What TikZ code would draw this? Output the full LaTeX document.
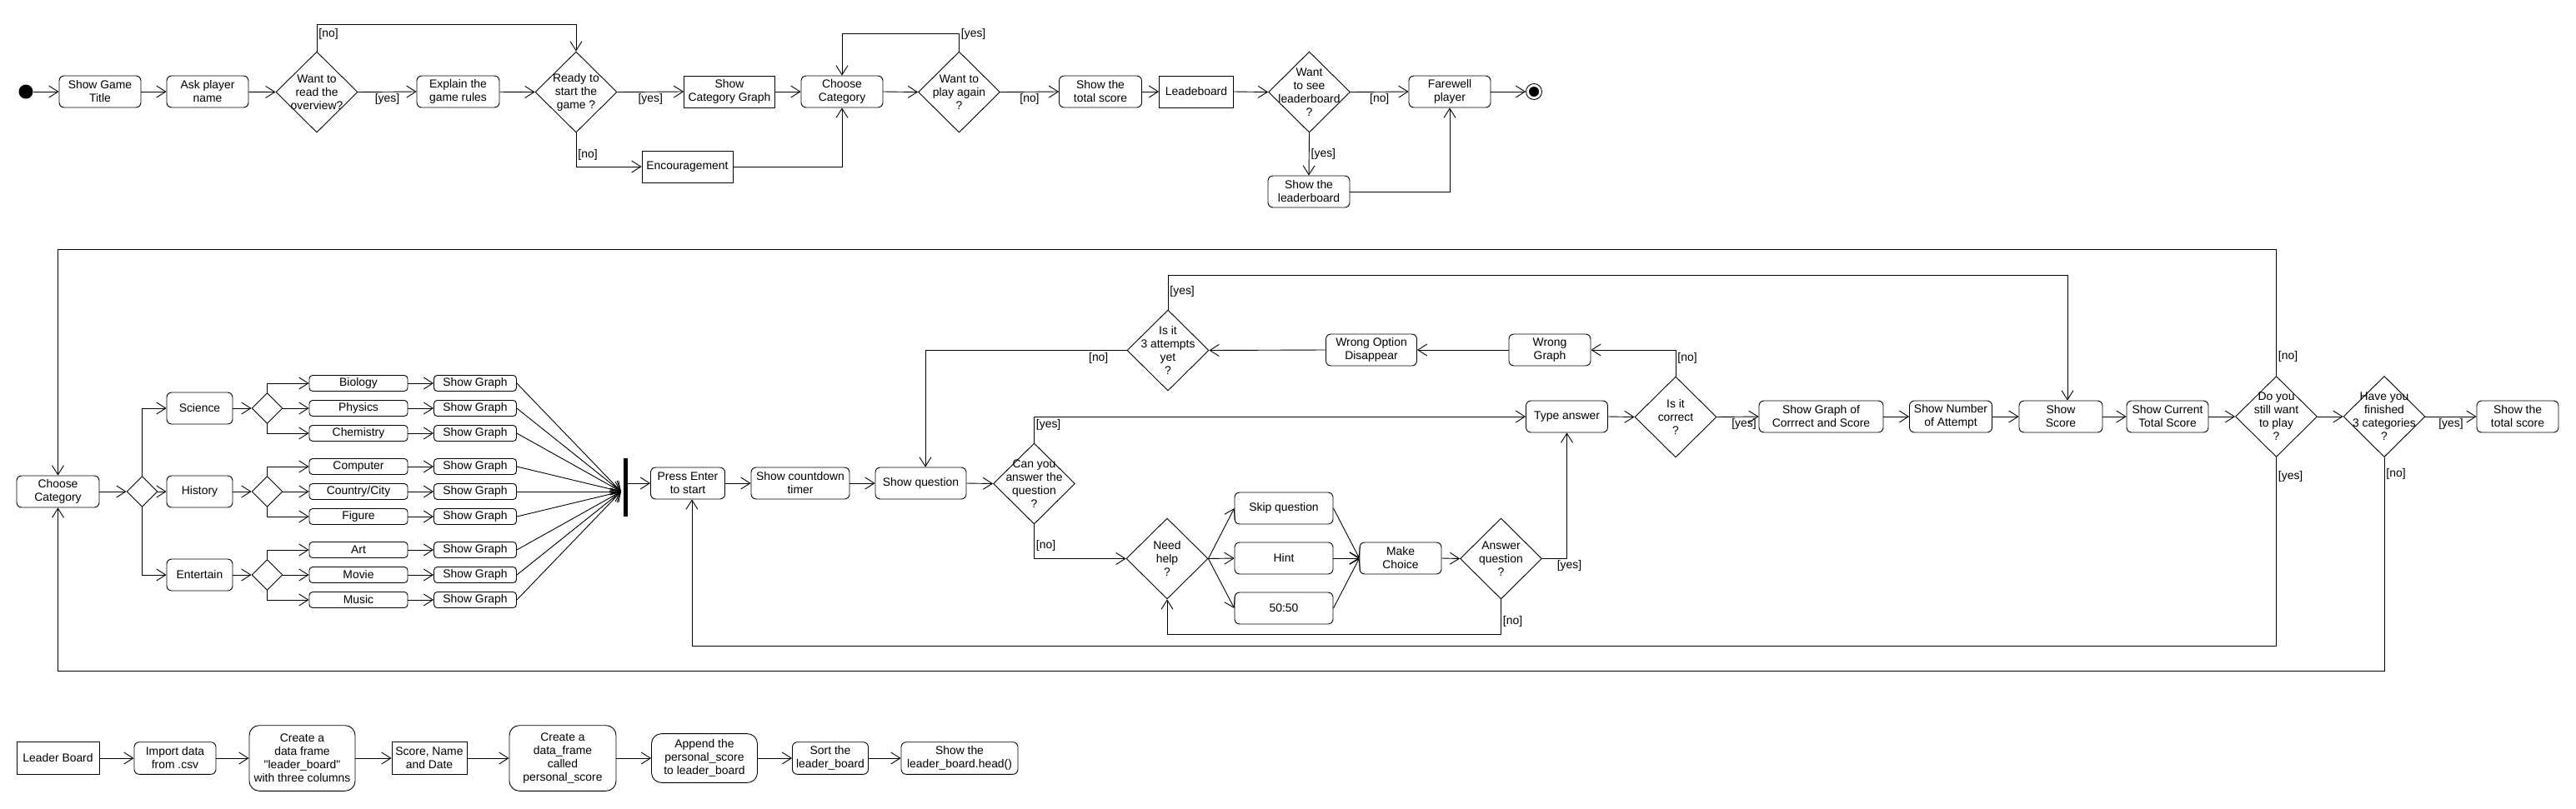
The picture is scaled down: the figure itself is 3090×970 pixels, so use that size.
\documentclass[tikz,border=0pt]{standalone}
\usepackage{fontspec}
\setmainfont{Liberation Sans}[Ligatures=TeXOff]
\usetikzlibrary{arrows.meta,shapes.geometric,calc}
\tikzset{
 lw/.style={line width=0.9pt},
 arr/.style={draw, lw, -{Straight Barb[length=11pt,width=14pt]}},
 act/.style={draw, lw, rectangle, rounded corners=6pt, minimum height=38pt, inner sep=0pt, align=center},
 bigact/.style={act, rounded corners=12pt},
 box/.style={draw, lw, rectangle, minimum height=38pt, inner sep=0pt, align=center},
 sub/.style={act, rounded corners=4pt, minimum height=19pt},
 dia/.style={draw, lw, diamond, minimum width=98pt, minimum height=97pt, inner sep=0pt},
 sdia/.style={draw, lw, diamond, minimum width=37pt, minimum height=37pt, inner sep=0pt},
 txt/.style={align=center, inner sep=0pt},
 lab/.style={inner sep=2pt},
}
\begin{document}
\begin{tikzpicture}[x=1pt, y=-1pt, font=\fontsize{13.9pt}{16pt}\selectfont]
\useasboundingbox (0,0) rectangle (3090,970);

% ---------------- Row 1 ----------------
\node[circle, fill, minimum size=17pt, inner sep=0pt] (start) at (31,110) {};
\node[act, minimum width=98pt] (sgt) at (120,110) {Show Game\\Title};
\node[act, minimum width=98pt] (apn) at (249,110) {Ask player\\name};
\node[dia] (d1) at (380,110.5) {};
\node[txt] (d1t) at (d1) {Want to\\read the\\overview?};
\node[act, minimum width=99pt] (egr) at (549.5,110) {Explain the\\game rules};
\node[dia] (d2) at (691,110.5) {};
\node[txt] (d2t) at (d2) {Ready to\\start the\\game ?};
\node[box, minimum width=109pt] (scg) at (875,110) {Show\\Category Graph};
\node[act, minimum width=98pt] (cc1) at (1010,110) {Choose\\Category};
\node[box, minimum width=109pt] (enc) at (824.5,200) {Encouragement};
\node[dia] (d3) at (1150.5,110.5) {};
\node[txt] (d3t) at (d3) {Want to\\play again\\?};
\node[act, minimum width=99pt] (sts1) at (1320,110) {Show the\\total score};
\node[box, minimum width=89pt] (lb1) at (1435,110) {Leadeboard};
\node[dia] (d4) at (1570.5,110.5) {};
\node[txt] (d4t) at (d4) {Want\\to see\\leaderboard\\?};
\node[act, minimum width=98pt] (fp) at (1739,110) {Farewell\\player};
\node[circle, draw, lw, minimum size=19pt, inner sep=0pt] (fin) at (1840,110) {};
\node[circle, fill, minimum size=12pt, inner sep=0pt] (fini) at (fin) {};
\node[act, minimum width=98pt] (stl) at (1570,230) {Show the\\leaderboard};

\draw[arr] (start) -- (sgt);
\draw[arr] (sgt) -- (apn);
\draw[arr] (apn) -- (d1.west);
\draw[arr] (d1.east) -- node[lab,below]{[yes]} (egr.west);
\draw[arr] (egr) -- (d2.west);
\draw[arr] (d1.north) -- node[lab,right,pos=0.65]{[no]} ++(0,-32) -| (d2.north);
\draw[arr] (d2.east) -- node[lab,below]{[yes]} (scg.west);
\draw[arr] (d2.south) |- node[lab,right,pos=0.32]{[no]} (enc.west);
\draw[arr] (scg) -- (cc1);
\draw[arr] (enc.east) -| (cc1.south);
\draw[arr] (cc1.east) -- (d3.west);
\draw[arr] (d3.north) -- ++(0,-21) node[lab,right]{[yes]} -| (cc1.north);
\draw[arr] (d3.east) -- node[lab,below]{[no]} (sts1.west);
\draw[arr] (sts1) -- (lb1);
\draw[arr] (lb1.east) -- (d4.west);
\draw[arr] (d4.east) -- node[lab,below]{[no]} (fp.west);
\draw[arr] (fp) -- (fin);
\draw[arr] (d4.south) -- node[lab,right]{[yes]} (stl.north);
\draw[arr] (stl.east) -| (fp.south);

% ---------------- Row 2 : categories ----------------
\node[act, minimum width=99pt] (cc2) at (69.5,590) {Choose\\Category};
\node[sdia] (sd0) at (170.5,590) {};
\node[act, minimum width=79pt] (sci) at (239.5,490) {Science};
\node[act, minimum width=79pt] (his) at (239.5,590) {History};
\node[act, minimum width=79pt] (ent) at (239.5,690) {Entertain};
\node[sdia] (sd1) at (320.5,490) {};
\node[sdia] (sd2) at (320.5,590) {};
\node[sdia] (sd3) at (320.5,690) {};

\node[sub, minimum width=118pt] (bio) at (430,460) {Biology};
\node[sub, minimum width=118pt] (phy) at (430,490) {Physics};
\node[sub, minimum width=118pt] (che) at (430,520) {Chemistry};
\node[sub, minimum width=118pt] (com) at (430,560) {Computer};
\node[sub, minimum width=118pt] (cou) at (430,590) {Country/City};
\node[sub, minimum width=118pt] (fig) at (430,620) {Figure};
\node[sub, minimum width=118pt] (art) at (430,660) {Art};
\node[sub, minimum width=118pt] (mov) at (430,690) {Movie};
\node[sub, minimum width=118pt] (mus) at (430,720) {Music};

\node[sub, minimum width=99pt] (g1) at (570,460) {Show Graph};
\node[sub, minimum width=99pt] (g2) at (570,490) {Show Graph};
\node[sub, minimum width=99pt] (g3) at (570,520) {Show Graph};
\node[sub, minimum width=99pt] (g4) at (570,560) {Show Graph};
\node[sub, minimum width=99pt] (g5) at (570,590) {Show Graph};
\node[sub, minimum width=99pt] (g6) at (570,620) {Show Graph};
\node[sub, minimum width=99pt] (g7) at (570,660) {Show Graph};
\node[sub, minimum width=99pt] (g8) at (570,690) {Show Graph};
\node[sub, minimum width=99pt] (g9) at (570,720) {Show Graph};

\node[fill, minimum width=5pt, minimum height=70pt, inner sep=0pt] (bar) at (750.5,585) {};
\coordinate (bj) at (745,590);

\draw[arr] (cc2.east) -- (sd0.west);
\draw[arr] (sd0.north) |- (sci.west);
\draw[arr] (sd0.east) -- (his.west);
\draw[arr] (sd0.south) |- (ent.west);
\draw[arr] (sci.east) -- (sd1.west);
\draw[arr] (his.east) -- (sd2.west);
\draw[arr] (ent.east) -- (sd3.west);
\draw[arr] (sd1.north) |- (bio.west);
\draw[arr] (sd1.east) -- (phy.west);
\draw[arr] (sd1.south) |- (che.west);
\draw[arr] (sd2.north) |- (com.west);
\draw[arr] (sd2.east) -- (cou.west);
\draw[arr] (sd2.south) |- (fig.west);
\draw[arr] (sd3.north) |- (art.west);
\draw[arr] (sd3.east) -- (mov.west);
\draw[arr] (sd3.south) |- (mus.west);
\foreach \a/\b in {bio/g1,phy/g2,che/g3,com/g4,cou/g5,fig/g6,art/g7,mov/g8,mus/g9}
  \draw[arr] (\a) -- (\b);
\foreach \g in {g1,g2,g3,g4,g5,g6,g7,g8,g9}
  \draw[arr] (\g.east) -- (bj);

% ---------------- Row 2 : questions ----------------
\node[act, minimum width=89pt] (pe) at (825,580) {Press Enter\\to start};
\node[act, minimum width=118pt] (sct) at (960,580) {Show countdown\\timer};
\node[act, minimum width=109pt] (sq) at (1104.5,580) {Show question};
\node[dia] (d5) at (1240.5,580.5) {};
\node[txt] (d5t) at (d5) {Can you\\answer the\\question\\?};
\node[dia] (nh) at (1400,670.5) {};
\node[txt] (nht) at (nh) {Need\\help\\?};
\node[act, minimum width=118pt] (skip) at (1540,610) {Skip question};
\node[act, minimum width=118pt] (hint) at (1540,670) {Hint};
\node[act, minimum width=118pt] (ff) at (1540,730) {50:50};
\node[act, minimum width=98pt] (mc) at (1680,670) {Make\\Choice};
\node[dia] (d6) at (1800.5,670.5) {};
\node[txt] (d6t) at (d6) {Answer\\question\\?};
\node[act, minimum width=98pt] (ta) at (1879.5,500) {Type answer};
\node[dia] (d7) at (2010,500.5) {};
\node[txt] (d7t) at (d7) {Is it\\correct\\?};
\node[act, minimum width=98pt] (wg) at (1859,420) {Wrong\\Graph};
\node[act, minimum width=109pt] (wod) at (1645,420) {Wrong Option\\Disappear};
\node[dia] (d8) at (1401,420.5) {};
\node[txt] (d8t) at (d8) {Is it\\3 attempts\\yet\\?};
\node[act, minimum width=149pt] (sgc) at (2184.5,500) {Show Graph of\\Corrrect and Score};
\node[act, minimum width=99pt] (sna) at (2340,500) {Show Number\\of Attempt};
\node[act, minimum width=100pt] (ss) at (2472,500) {Show\\Score};
\node[act, minimum width=98pt] (sct2) at (2600,500) {Show Current\\Total Score};
\node[dia] (d9) at (2730.5,500) {};
\node[txt] (d9t) at (d9) {Do you\\still want\\to play\\?};
\node[dia] (d10) at (2860,500) {};
\node[txt] (d10t) at (d10) {Have you\\finished\\3 categories\\?};
\node[act, minimum width=98pt] (sts2) at (3020,500) {Show the\\total score};

\draw[arr] (bar.east |- pe.west) -- (pe.west);
\draw[arr] (pe) -- (sct);
\draw[arr] (sct) -- (sq);
\draw[arr] (sq.east) -- (d5.west);
\draw[arr] (d5.north) |- node[lab,right,pos=0.34]{[yes]} (ta.west);
\draw[arr] (d5.south) |- node[lab,right,pos=0.31]{[no]} (nh.west);
\draw[arr] (nh.east) -- (skip.west);
\draw[arr] (nh.east) -- (hint.west);
\draw[arr] (nh.east) -- (ff.west);
\draw[arr] (skip.east) -- (mc.west);
\draw[arr] (hint.east) -- (mc.west);
\draw[arr] (ff.east) -- (mc.west);
\draw[arr] (mc.east) -- (d6.west);
\draw[arr] (d6.east) -| node[lab,below,pos=0.5,inner sep=1pt,xshift=3pt]{[yes]} (ta.south);
\draw[arr] (d6.south) -- node[lab,right,pos=0.63]{[no]} ++(0,41.5) -| (nh.south);
\draw[arr] (ta.east) -- (d7.west);
\draw[arr] (d7.north) |- node[lab,right,pos=0.34]{[no]} (wg.east);
\draw[arr] (wg.west) -- (wod.east);
\draw[arr] (wod.west) -- (d8.east);
\draw[arr] (d8.west) -| node[lab,below,pos=0.07]{[no]} ([xshift=5.5pt]sq.north);
\draw[arr] (d8.north) -- node[lab,right,pos=0.52]{[yes]} ++(0,-41.5) -| ([xshift=8pt]ss.north);
\draw[arr] (d7.east) -- node[lab,below,pos=0.65]{[yes]} (sgc.west);
\draw[arr] (sgc) -- (sna);
\draw[arr] (sna) -- (ss);
\draw[arr] (ss) -- (sct2);
\draw[arr] (sct2.east) -- (d9.west);
\draw[arr] (d9.east) -- (d10.west);
\draw[arr] (d10.east) -- node[lab,below]{[yes]} (sts2.west);
\draw[arr] (d9.north) -- node[lab,right,pos=0.155]{[no]} ++(0,-151.5) -| (cc2.north);
\draw[arr] (d9.south) -- node[lab,right,pos=0.1]{[yes]} ++(0,226.5) -| ([xshift=5pt]pe.south);
\draw[arr] (d10.south) -- node[lab,right,pos=0.076]{[no]} ++(0,256.5) -| (cc2.south);

% ---------------- Row 3 : leader board ----------------
\node[box, minimum width=99pt, minimum height=38.6pt] (lbd) at (69.5,910) {Leader Board};
\node[act, minimum width=98pt, minimum height=38.6pt] (imp) at (210,910) {Import data\\from .csv};
\node[bigact, minimum width=127pt, minimum height=78.6pt] (cdf) at (362.5,910) {Create a\\data frame\\"leader\_board"\\with three columns};
\node[box, minimum width=90pt, minimum height=38.6pt] (snd) at (515,910) {Score, Name\\and Date};
\node[bigact, minimum width=128pt, minimum height=78.6pt] (cdf2) at (675,910) {Create a\\data\_frame\\called\\personal\_score};
\node[bigact, minimum width=127pt, minimum height=58.7pt] (app) at (845,910) {Append the\\personal\_score\\to leader\_board};
\node[act, minimum width=91pt, minimum height=38.6pt] (srt) at (996,910) {Sort the\\leader\_board};
\node[act, minimum width=140pt, minimum height=38.6pt] (shw) at (1151,910) {Show the\\leader\_board.head()};

\draw[arr] (lbd) -- (imp);
\draw[arr] (imp) -- (cdf);
\draw[arr] (cdf) -- (snd);
\draw[arr] (snd) -- (cdf2);
\draw[arr] (cdf2) -- (app);
\draw[arr] (app) -- (srt);
\draw[arr] (srt) -- (shw);
\end{tikzpicture}
\end{document}
